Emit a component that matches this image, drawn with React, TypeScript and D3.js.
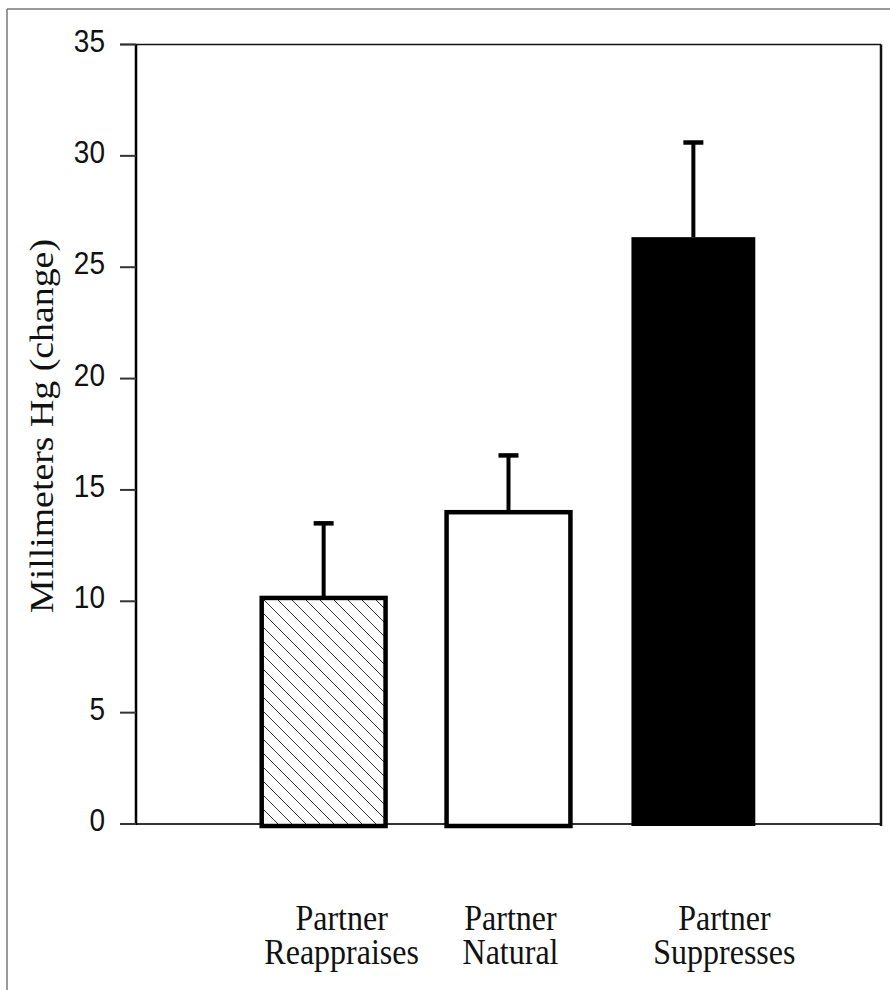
import * as d3 from 'd3';
import React from 'react';

// values
const categories = ['Partner Reappraises', 'Partner Natural', 'Partner Suppresses'];
const labelLines = [['Partner', 'Reappraises'], ['Partner', 'Natural'], ['Partner', 'Suppresses']];
const means = [10.15, 14.0, 26.35];
const errors = [3.35, 2.55, 4.25];
const fills = ['url(#hatch)', '#ffffff', '#000000'];
const yTicks = [0, 5, 10, 15, 20, 25, 30, 35];

// the labels in the scan sit a little right of their bars
const labelNudge = [18, 2, 31];

const W = 890;
const H = 990;

function App() {
  const margin = { top: 44.5, right: 881, bottom: 824, left: 136 };

  const x = d3.scaleBand<string>()
    .domain(categories)
    .range([margin.left, margin.right])
    .paddingInner(0.33)
    .paddingOuter(0.68);

  const y = d3.scaleLinear()
    .domain([0, 35])
    .range([margin.bottom, margin.top]);

  const serif = '"Liberation Serif", "Times New Roman", serif';
  const sans = '"Liberation Sans", Arial, sans-serif';

  return (
    <svg width={W} height={H} style={{ position: 'absolute', left: 0, top: 0, background: '#fff' }}>
      <defs>
        <pattern id="hatch" patternUnits="userSpaceOnUse" width={14} height={14}>
          <rect width={14} height={14} fill="#fff" />
          <path d="M0,0 L14,14 M-7,7 L7,21 M7,-7 L21,7" stroke="#333" strokeWidth={1} />
        </pattern>
      </defs>

      {/* scan frame */}
      <line x1={7} x2={W} y1={9} y2={9} stroke="#777" strokeWidth={1.5} />
      <line x1={7} x2={7} y1={9} y2={H} stroke="#777" strokeWidth={1.5} />

      {/* plot box */}
      <line x1={120} x2={881} y1={y(35)} y2={y(35)} stroke="#111" strokeWidth={1.5} />
      <line x1={120} x2={881} y1={y(0)} y2={y(0)} stroke="#333" strokeWidth={1.8} />
      <line x1={881} x2={881} y1={y(35)} y2={y(0) + 2} stroke="#111" strokeWidth={2.5} />
      <line x1={margin.left} x2={margin.left} y1={y(35)} y2={y(0) + 1} stroke="#000" strokeWidth={2.5} />

      {/* y ticks */}
      {yTicks.map(t => (
        <g key={t}>
          <line x1={120} x2={margin.left} y1={y(t)} y2={y(t)} stroke="#333" strokeWidth={2} />
          <text
            transform={`translate(105,${y(t) + 7}) scale(1,1.12)`}
            textAnchor="end"
            fontFamily={sans}
            fontSize={28}
            fill="#111"
          >{t}</text>
        </g>
      ))}

      {/* y axis title */}
      <text
        transform={`translate(53,${426}) rotate(-90)`}
        textAnchor="middle"
        fontFamily={serif}
        fontSize={34}
        textLength={374}
        lengthAdjust="spacingAndGlyphs"
        fill="#111"
      >Millimeters Hg (change)</text>

      {/* bars */}
      {categories.map((c, i) => {
        const bx = x(c)!;
        const bw = x.bandwidth();
        const cx = bx + bw / 2;
        const top = y(means[i]);
        const errTop = y(means[i] + errors[i]);
        return (
          <g key={c}>
            <line x1={cx} x2={cx} y1={top} y2={errTop} stroke="#000" strokeWidth={4} />
            <line x1={cx - 10} x2={cx + 10} y1={errTop} y2={errTop} stroke="#000" strokeWidth={4.5} />
            <rect
              x={bx}
              y={top}
              width={bw}
              height={y(0) - top + 2}
              fill={fills[i]}
              stroke="#000"
              strokeWidth={i === 2 ? 0 : 4.5}
            />
          </g>
        );
      })}

      {/* category labels */}
      {categories.map((c, i) => {
        const cx = x(c)! + x.bandwidth() / 2 + labelNudge[i];
        return (
          <text
            key={c}
            transform={`translate(${cx},930) scale(1,1.15)`}
            textAnchor="middle"
            fontFamily={serif}
            fontSize={32}
            fill="#111"
          >
            {labelLines[i].map((ln, j) => (
              <tspan key={j} x={0} y={j * 29.5}>{ln}</tspan>
            ))}
          </text>
        );
      })}
    </svg>
  );
}

export default App;
